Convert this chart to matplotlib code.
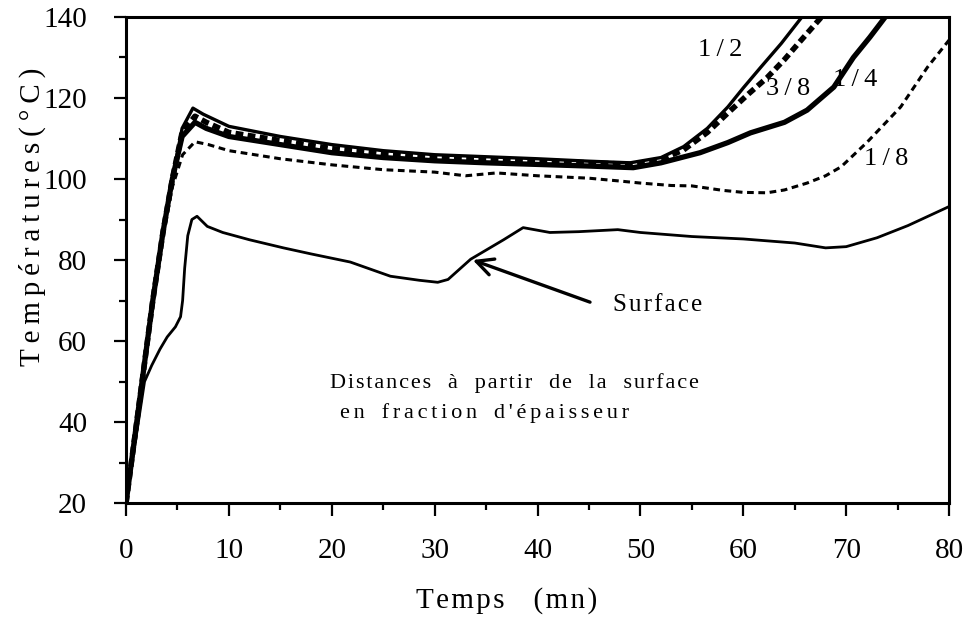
import matplotlib
matplotlib.use("Agg")
import matplotlib.pyplot as plt
from matplotlib.ticker import MultipleLocator

plt.rcParams['font.family'] = ['Liberation Serif', 'DejaVu Serif']

# Temperature histories at several depths (fraction of thickness from surface)
t_half = [0, 1.3, 2.6, 3.6, 4.5, 5.45, 6.5, 7.5, 10, 15, 20, 25, 30, 35, 40, 45, 49,
          52, 54.2, 56.5, 58.5, 60, 61.7, 63.7, 65.7]
T_half = [20, 45, 70, 87, 100, 112.5, 117.5, 116, 113, 110.5, 108.5, 107, 106, 105.5, 105, 104.4, 104,
          105.3, 108, 112.5, 117.8, 122.5, 127.6, 133.5, 140]

t_3_8 = [0, 1.3, 2.6, 3.6, 4.5, 5.45, 6.7, 7.8, 10, 15, 20, 25, 30, 35, 40, 45, 49.3,
         52, 54.2, 56.5, 58.5, 60.5, 62.3, 64, 65.6, 67.6]
T_3_8 = [20, 45, 70, 87, 100, 111.5, 115.5, 114, 111.5, 109.5, 107.5, 106.3, 105.5, 105, 104.5, 104, 103.6,
         104.8, 107.2, 111.5, 116.3, 121, 125, 129.5, 134.2, 140]

t_quarter = [0, 1.3, 2.6, 3.6, 4.5, 5.45, 6.7, 7.8, 10, 15, 20, 25, 30, 35, 40, 45, 49.3,
             52, 55.8, 58.5, 60.7, 64, 66.2, 68.8, 70.7, 72.3, 73.8]
T_quarter = [20, 45, 70, 87, 100, 110.5, 114, 112.5, 110.5, 108.5, 106.5, 105.3, 104.5, 104, 103.6, 103.2, 102.8,
             104, 106.5, 109, 111.4, 114, 117, 122.7, 130, 135, 140]

t_eighth = [0, 1.3, 2.6, 3.6, 4.5, 5.5, 6.7, 8, 10, 15, 20, 25, 30, 33, 36, 40, 45, 48, 50, 53, 55,
            58, 60, 62.3, 64, 66.2, 68, 69.5, 72, 75.3, 77.9, 80]
T_eighth = [20, 45, 69, 86, 98, 106, 109.2, 108.5, 107, 105, 103.5, 102.3, 101.7, 100.8, 101.5, 100.8, 100.2,
            99.5, 99, 98.4, 98.3, 97.2, 96.7, 96.6, 97.3, 99, 100.8, 103, 109, 117.8, 127.6, 134.3]

t_surface = [0, 1.2, 1.8, 2.5, 3.3, 4, 4.8, 5.3, 5.5, 5.7, 6.0, 6.4, 6.9, 7.9, 9.4, 12, 15.3, 18,
             21.8, 25.7, 28.5, 30.3, 31.3, 33.5, 36.7, 38.6, 41.2, 44, 47.8, 50, 55, 60, 65, 68,
             70, 73, 76, 80]
T_surface = [20, 40, 50, 54, 58, 61, 63.5, 66, 70, 78, 86, 90, 90.8, 88.3, 86.8, 85, 83, 81.5,
             79.5, 76, 75, 74.5, 75.2, 80.2, 85, 88, 86.8, 87, 87.5, 86.8, 85.8, 85.2, 84.2, 83,
             83.3, 85.5, 88.5, 93.2]

curve_labels = ["1/2", "3/8", "1/4", "1/8"]
label_pos = [(57.8, 131.8), (64.4, 122.3), (70.9, 124.4), (73.9, 104.9)]

THIN = "\u2009"
HAIR = "\u200a"


def tracked(text, gap, word_gap=" "):
    """Insert a small space between letters and a wider one between words."""
    return word_gap.join(gap.join(word) for word in text.split(" "))


fig = plt.figure(figsize=(9.71, 6.18), dpi=100)
ax = fig.add_axes([0.1298, 0.186, 0.8476, 0.7865])

ax.plot(t_surface, T_surface, color='black', lw=2.0, solid_joinstyle='round')
ax.plot(t_eighth, T_eighth, color='black', lw=2.2, linestyle=(0, (2.2, 1.5)))
ax.plot(t_quarter, T_quarter, color='black', lw=3.8, solid_joinstyle='round')
ax.plot(t_half, T_half, color='black', lw=2.4, solid_joinstyle='round')
ax.plot(t_3_8, T_3_8, color='black', lw=4.0, linestyle=(0, (1.4, 0.8)))

for txt, (px, py) in zip(curve_labels, label_pos):
    ax.text(px, py, tracked(txt, THIN), fontsize=19, ha='center', va='center')

ax.annotate('', xy=(33.7, 80.0), xytext=(45.1, 69.6),
            arrowprops=dict(arrowstyle='->', lw=2.4, color='black', mutation_scale=30,
                            shrinkA=0, shrinkB=0))
ax.text(47.3, 68.9, tracked("Surface", HAIR), fontsize=18, ha='left', va='center')

ax.text(19.8, 49.6, tracked("Distances à partir de la surface", HAIR, "   "),
        fontsize=16, ha='left', va='center')
ax.text(20.8, 42.2, tracked("en fraction d'épaisseur", HAIR * 2, "   "),
        fontsize=16, ha='left', va='center')

ax.set_xlim(0, 80)
ax.set_ylim(20, 140)
ax.xaxis.set_major_locator(MultipleLocator(10))
ax.xaxis.set_minor_locator(MultipleLocator(5))
ax.yaxis.set_major_locator(MultipleLocator(20))
ax.yaxis.set_minor_locator(MultipleLocator(10))

ax.tick_params(which='both', direction='out', width=1.6, top=False, right=False, labelsize=21)
ax.tick_params(which='major', length=9)
ax.tick_params(which='minor', length=5)
ax.tick_params(axis='x', which='major', pad=16)
ax.tick_params(axis='y', which='major', pad=19)

for s in ax.spines.values():
    s.set_linewidth(2.2)

ax.set_xlabel(tracked("Temps (mn)", HAIR, "    "), fontsize=21)
ax.set_ylabel(tracked("Températures(°C)", THIN), fontsize=21)
ax.xaxis.set_label_coords(0.463, -0.20)
ax.yaxis.set_label_coords(-0.114, 0.588)
ax.xaxis.label.set_va('center')
ax.yaxis.label.set_va('center')

fig.savefig("out.png", dpi=100)
